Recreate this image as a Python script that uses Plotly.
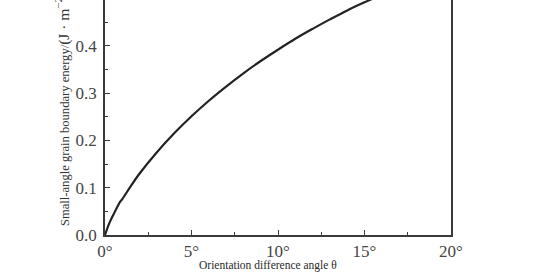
import plotly.graph_objects as go

theta = [0, 0.25, 0.5, 0.87, 1.0, 1.5, 2.0, 3.0, 4.0, 5.0, 6.0, 7.0, 8.0, 9.0, 10.0, 11.0, 12.0, 13.0, 14.0, 15.0, 16.0]
energy = [0, 0.025, 0.044, 0.070, 0.076, 0.104, 0.130, 0.175, 0.215, 0.251, 0.284, 0.314, 0.342, 0.368, 0.392, 0.415, 0.436, 0.456, 0.475, 0.492, 0.508]

xtick_vals = [0, 5, 10, 15, 20]
xtick_text = ["0°", "5°", "10°", "15°", "20°"]
ytick_vals = [0.0, 0.1, 0.2, 0.3, 0.4, 0.5]
ytick_text = ["0.0", "0.1", "0.2", "0.3", "0.4", "0.5"]

serif = "Liberation Serif"
axcol = "#3a3a3a"

fig = go.Figure()
fig.add_trace(go.Scatter(x=theta, y=energy, mode="lines",
                         line=dict(color="#222222", width=2.2, shape="spline", smoothing=1.0),
                         hoverinfo="skip", showlegend=False, cliponaxis=True))

fig.update_layout(
    width=540, height=272,
    margin=dict(l=105, r=89, t=0, b=37),
    paper_bgcolor="white", plot_bgcolor="white",
    xaxis=dict(range=[0, 20], tickvals=xtick_vals, ticktext=xtick_text,
               showgrid=False, zeroline=False, showline=True, linecolor=axcol, linewidth=1.5,
               ticks="inside", ticklen=5, tickwidth=1.2, tickcolor=axcol,
               minor=dict(dtick=2.5, ticks="inside", ticklen=3, tickwidth=1.2, tickcolor=axcol, showgrid=False),
               tickfont=dict(family=serif, size=17, color="#444"), mirror=False),
    yaxis=dict(range=[0, 0.497], tickvals=ytick_vals, ticktext=ytick_text,
               showgrid=False, zeroline=False, showline=True, linecolor=axcol, linewidth=1.5,
               ticks="inside", ticklen=5, tickwidth=1.2, tickcolor=axcol,
               minor=dict(dtick=0.05, ticks="inside", ticklen=3, tickwidth=1.2, tickcolor=axcol, showgrid=False),
               tickfont=dict(family=serif, size=17, color="#444"), mirror=True, ticklabelstandoff=3),
)

fig.add_annotation(
    text="Small-angle grain boundary energy/<span style='font-size:15.5px'>(J · m<sup>−2</sup>)</span>",
    xref="paper", yref="paper", x=-0.121, y=0.03, xanchor="center", yanchor="bottom",
    textangle=-90, showarrow=False, font=dict(family=serif, size=12.6, color="#333"))

fig.add_annotation(
    text="Orientation difference angle θ",
    xref="paper", yref="paper", x=0.471, y=-0.13, xanchor="center", yanchor="middle",
    showarrow=False, font=dict(family=serif, size=11.5, color="#2a2a2a"))

fig.write_html("out.html")
